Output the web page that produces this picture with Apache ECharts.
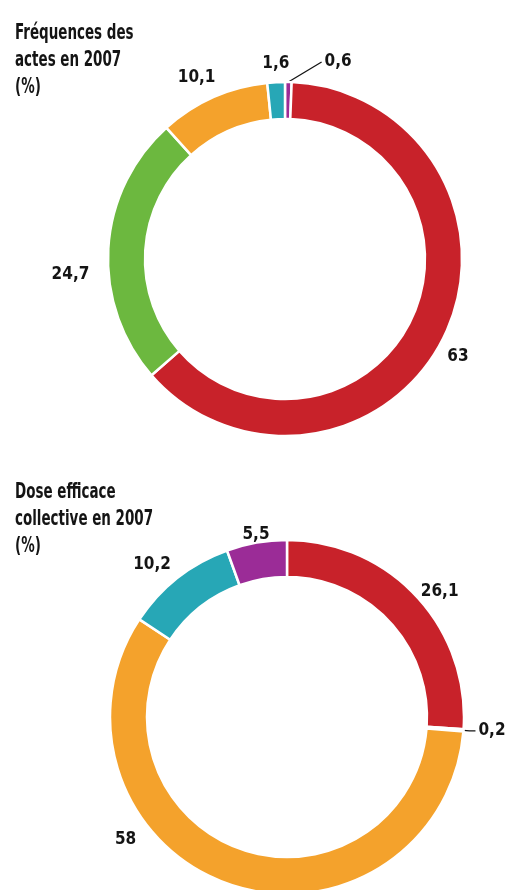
<!DOCTYPE html>
<html>
<head>
<meta charset="utf-8">
<script src="https://cdn.jsdelivr.net/npm/echarts@6/dist/echarts.min.js"></script>
<style>
  html, body { margin: 0; padding: 0; background: #ffffff; }
  #chart { width: 510px; height: 890px; }
</style>
</head>
<body>
<div id="chart"></div>
<script>
// Share of procedures (frequency) in 2007, clockwise from 12 o'clock
const freqCategories = ['Violet', 'Rouge', 'Vert', 'Orange', 'Bleu'];
const freqValues = [0.6, 63, 24.7, 10.1, 1.6];

// Share of collective effective dose in 2007, clockwise from 12 o'clock
const doseCategories = ['Rouge', 'Vert', 'Orange', 'Bleu', 'Violet'];
const doseValues = [26.1, 0.2, 58, 10.2, 5.5];

const titles = [
  'Fréquences des\nactes en 2007\n(%)',
  'Dose efficace\ncollective en 2007\n(%)'
];

const palette = {
  Rouge: '#c8222a',
  Vert: '#6cb83f',
  Orange: '#f4a22c',
  Bleu: '#27a7b6',
  Violet: '#9b2c97'
};

const FONT = "'DejaVu Sans Condensed', 'DejaVu Sans', sans-serif";

// nudges applied to the outside labels, per slice [dx, dy]
const freqLabelNudge = [[23, -6], [-23, 15], [8, 27], [21, -7], [27, -5]];
const doseLabelNudge = [[-9, -1], [0, 0], [-82, -50], [6, -9], [23, -2]];

const fmt = v => String(v).replace('.', ',');

// values below this share get a leader line
const SMALL = 1;

function buildData(cats, vals) {
  return cats.map((c, i) => ({
    name: c,
    value: vals[i],
    itemStyle: { color: palette[c] },
    labelLine: { show: vals[i] < SMALL }
  }));
}

function ring(cats, vals, center, nudge, diagonalLeader) {
  return {
    type: 'pie',
    center: center,
    radius: [140, 177],
    startAngle: 90,
    clockwise: true,
    avoidLabelOverlap: false,
    silent: true,
    itemStyle: { borderColor: '#ffffff', borderWidth: 2.5 },
    label: {
      show: true,
      position: 'outside',
      formatter: p => fmt(p.value),
      color: '#141414',
      fontFamily: FONT,
      fontWeight: 'bold',
      fontSize: 17,
      distanceToLabelLine: 3
    },
    labelLine: {
      length: diagonalLeader ? 14 : 6,
      length2: diagonalLeader ? 10 : 6,
      smooth: false,
      lineStyle: { color: '#141414', width: 1.3 }
    },
    labelLayout: function (params) {
      const n = nudge[params.dataIndex] || [0, 0];
      const out = { dx: n[0], dy: n[1] };
      if (diagonalLeader && params.labelLinePoints && vals[params.dataIndex] < SMALL) {
        const start = params.labelLinePoints[0];
        const r = params.labelRect;
        const end = [r.x + n[0] - 3, r.y + n[1] + r.height / 2];
        out.labelLinePoints = [
          start,
          [(start[0] + end[0]) / 2, (start[1] + end[1]) / 2],
          end
        ];
      }
      return out;
    },
    data: buildData(cats, vals)
  };
}

const chart = echarts.init(document.getElementById('chart'), null, { renderer: 'canvas' });

// condensed bold headings, squeezed horizontally
function heading(text, top) {
  return {
    type: 'text',
    left: 15,
    top: top,
    scaleX: 0.73,
    originX: 0,
    style: {
      text: text,
      font: 'bold 20.5px ' + FONT,
      lineHeight: 27,
      fill: '#141414'
    }
  };
}

chart.setOption({
  backgroundColor: '#ffffff',
  animation: false,
  graphic: [heading(titles[0], 20), heading(titles[1], 479)],
  series: [
    ring(freqCategories, freqValues, [285, 259], freqLabelNudge, true),
    ring(doseCategories, doseValues, [287, 717], doseLabelNudge, false)
  ]
});
</script>
</body>
</html>
